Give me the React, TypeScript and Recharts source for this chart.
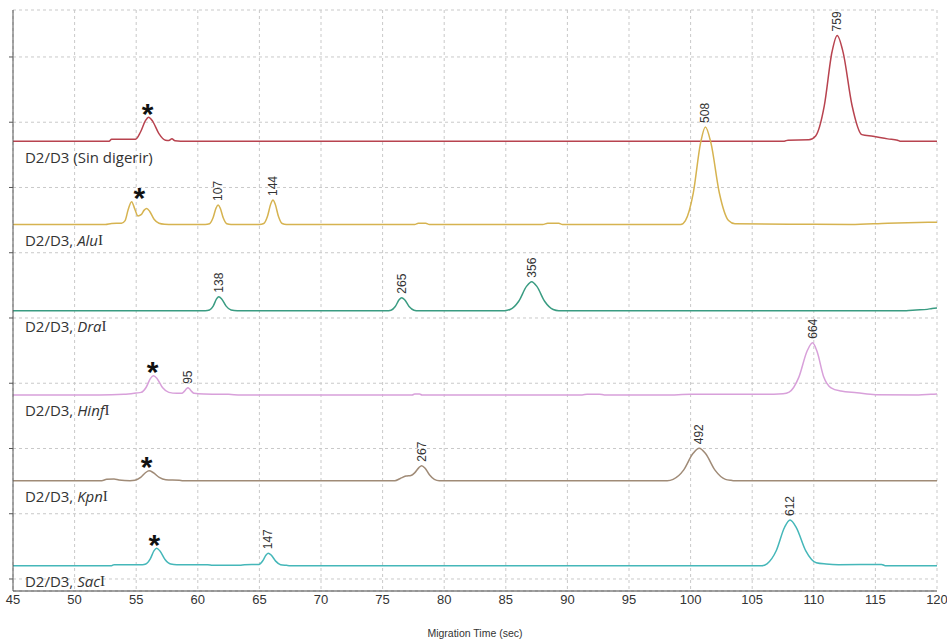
import React from 'react';
import { ComposedChart, Line, Scatter, XAxis, YAxis, CartesianGrid } from 'recharts';

type Pt = [number, number];

// migration time axis and lane grid
const timeTicks = [45, 50, 55, 60, 65, 70, 75, 80, 85, 90, 95, 100, 105, 110, 115, 120];
const gridRows = [0, 10, 20, 30, 40, 50, 60, 70, 80];

// one lane per digest, top to bottom
const laneEnzymes = ['', 'Alu', 'Dra', 'Hinf', 'Kpn', 'Sac'];
const laneOffsets = [67.1, 54.33, 41.12, 28.2, 15.07, 2.04];

// fluorescence traces: [migration time, signal above lane baseline]
const undigested: Pt[] = [
  [45, 0], [52.8, 0], [53.0, 0.3], [54.95, 0.3], [55.35, 1.4], [55.75, 3.14], [56.0, 3.68],
  [56.33, 3.07], [56.83, 1.2], [57.38, 0.15], [57.65, 0.1], [57.9, 0.35], [58.15, 0.05], [58.6, 0],
  [107.6, 0], [107.9, 0.15], [109.6, 0.2], [110.15, 0.8], [110.85, 5.4], [111.48, 13.7], [111.9, 16.2],
  [112.38, 13.6], [113.1, 5.5], [113.9, 1.0], [114.8, 0.75], [116.0, 0.35], [116.8, 0.15], [117.0, 0], [120, 0],
];
const aluI: Pt[] = [
  [45, 0], [52.5, 0], [53.0, 0.15], [53.8, 0.2], [54.1, 0.6], [54.35, 2.3], [54.63, 3.5], [54.88, 2.4],
  [55.15, 1.3], [55.4, 1.5], [55.65, 2.2], [55.85, 2.45], [56.1, 2.0], [56.45, 0.8], [56.85, 0.2], [57.3, 0.05], [58, 0],
  [60.6, 0], [60.95, 0.12], [61.23, 0.98], [61.48, 2.5], [61.65, 3.0], [61.82, 2.5], [62.07, 0.98], [62.35, 0.12], [62.7, 0],
  [65.0, 0], [65.35, 0.15], [65.65, 1.22], [65.92, 3.13], [66.1, 3.75], [66.28, 3.13], [66.55, 1.22], [66.85, 0.15], [67.2, 0],
  [77.6, 0], [77.9, 0.18], [78.5, 0.18], [78.8, 0], [88.0, 0], [88.4, 0.18], [89.3, 0.18], [89.6, 0],
  [99.2, 0], [99.58, 0.6], [100.22, 4.86], [100.81, 12.5], [101.2, 14.95], [101.65, 12.5], [102.33, 4.86],
  [103.08, 0.6], [103.6, 0.1], [108, 0.05], [113, 0], [116, 0.2], [120, 0.35],
];
const draI: Pt[] = [
  [45, 0], [60.6, 0], [60.95, 0.09], [61.25, 0.7], [61.52, 1.8], [61.7, 2.15], [61.94, 1.8], [62.3, 0.7], [62.7, 0.1], [63.2, 0],
  [75.3, 0], [75.68, 0.08], [76.03, 0.65], [76.34, 1.67], [76.55, 2.0], [76.79, 1.67], [77.15, 0.65], [77.55, 0.08], [77.9, 0],
  [84.9, 0], [85.35, 0.18], [86.05, 1.45], [86.68, 3.72], [87.1, 4.45], [87.52, 3.72], [88.15, 1.45], [88.85, 0.18], [89.3, 0],
  [117.5, 0], [118.3, 0.1], [119.2, 0.2], [119.6, 0.35], [120, 0.4],
];
const hinfI: Pt[] = [
  [45, 0], [52, 0], [54, 0.1], [55.0, 0.3], [55.4, 0.4], [55.8, 1.15], [56.16, 2.55], [56.4, 2.95], [56.7, 2.5],
  [57.15, 1.1], [57.65, 0.4], [58.3, 0.25], [58.7, 0.25], [58.9, 0.55], [59.08, 0.95], [59.2, 1.1], [59.32, 0.95],
  [59.5, 0.55], [59.7, 0.25], [60.5, 0.15], [62.5, 0.1], [63.5, 0],
  [77.4, 0], [77.6, 0.15], [78.0, 0.15], [78.2, 0], [91.2, 0], [91.6, 0.12], [92.6, 0.12], [93.0, 0],
  [98, 0], [100, 0.1], [106, 0.1], [107.5, 0.2], [108.0, 0.45], [108.78, 2.7], [109.45, 6.7], [109.9, 8.0],
  [110.26, 6.7], [110.8, 2.8], [111.4, 1.1], [112.2, 0.6], [113.5, 0.35], [115.0, 0.05], [118.5, 0], [119.5, 0.1], [120, 0.15],
];
const kpnI: Pt[] = [
  [45, 0], [52.2, 0], [52.6, 0.2], [53.2, 0.25], [53.6, 0.1], [54.5, 0], [54.9, 0.06], [55.36, 0.49], [55.77, 1.25],
  [56.04, 1.5], [56.37, 1.25], [56.87, 0.49], [57.4, 0.15], [58.5, 0.08], [58.8, 0],
  [76.0, 0], [76.4, 0.3], [76.9, 0.7], [77.3, 0.8], [77.6, 1.2], [77.95, 2.0], [78.17, 2.3], [78.45, 1.9], [78.8, 0.9], [79.2, 0.2], [79.6, 0],
  [98.1, 0], [98.58, 0.2], [99.43, 1.62], [100.19, 4.15], [100.7, 4.97], [101.21, 4.15], [101.98, 1.62], [102.83, 0.2],
  [103.3, 0.05], [103.6, 0], [120, 0],
];
const sacI: Pt[] = [
  [45, 0], [53.0, 0], [53.2, 0.15], [55.5, 0.15], [55.78, 0.25], [56.13, 1.0], [56.45, 2.3], [56.66, 2.67], [56.93, 2.25],
  [57.34, 0.95], [57.8, 0.25], [58.3, 0.15], [60.8, 0.15], [61.2, 0.05], [63.4, 0.05], [63.8, 0.15],
  [64.97, 0.2], [65.27, 0.75], [65.54, 1.63], [65.72, 1.9], [65.96, 1.62], [66.32, 0.7], [66.72, 0.15], [67.2, 0.05], [67.5, 0],
  [105.8, 0], [106.2, 0.28], [106.95, 2.28], [107.62, 5.85], [108.07, 7.0], [108.58, 5.85], [109.35, 2.28], [110.2, 0.45],
  [111.0, 0.25], [112.0, 0.15], [115.5, 0.2], [115.8, 0], [120, 0],
];
const traces = [undigested, aluI, draI, hinfI, kpnI, sacI];

// fragment sizes (bp) called at each peak
const fragmentSizes = [
  { lane: 0, t: 111.9, size: '759' },
  { lane: 1, t: 61.65, size: '107' },
  { lane: 1, t: 66.1, size: '144' },
  { lane: 1, t: 101.2, size: '508' },
  { lane: 2, t: 61.7, size: '138' },
  { lane: 2, t: 76.55, size: '265' },
  { lane: 2, t: 87.1, size: '356' },
  { lane: 3, t: 59.2, size: '95' },
  { lane: 3, t: 109.9, size: '664' },
  { lane: 4, t: 78.17, size: '267' },
  { lane: 4, t: 100.7, size: '492' },
  { lane: 5, t: 65.72, size: '147' },
  { lane: 5, t: 108.07, size: '612' },
];

// marker peaks flagged with an asterisk
const markerPeaks = [
  { lane: 0, t: 55.93 },
  { lane: 1, t: 55.25 },
  { lane: 3, t: 56.34 },
  { lane: 4, t: 55.85 },
  { lane: 5, t: 56.47 },
];

const laneColors = ['#b8434f', '#d6b350', '#3a9c82', '#d8a0da', '#a08b77', '#45b7b9'];

const apexNear = (lane: number, t: number, win: number) => {
  let best = 0;
  for (const [pt, pv] of traces[lane]) if (Math.abs(pt - t) <= win && pv > best) best = pv;
  return laneOffsets[lane] + best;
};

const laneSeries = traces.map((tr, i) => tr.map(([t, v]) => ({ t, v: laneOffsets[i] + v })));
const sizeTags = fragmentSizes.map((f) => ({ t: f.t, v: apexNear(f.lane, f.t, 0.05), size: f.size }));
const stars = markerPeaks.map((m) => ({ t: m.t, v: apexNear(m.lane, m.t, 0.8) }));
const laneTitles = laneEnzymes.map((e, i) => ({ t: 45.97, v: laneOffsets[i] - 2.36, enzyme: e }));

const SANS = "'Liberation Sans', Arial, sans-serif";

const SizeTag = (p: any) => {
  const { cx, cy, payload } = p;
  const y = cy - 4;
  return (
    <text x={cx} y={y} transform={`rotate(-90 ${cx} ${y})`} fontSize={12} fontFamily={SANS}
      fill="#333" dominantBaseline="central">
      {payload.size}
    </text>
  );
};

const Star = (p: any) => {
  const { cx, cy } = p;
  const center = cy - 11;
  return (
    <text x={cx} y={center + 17.4} textAnchor="middle" fontSize={30} fontWeight="bold" fontFamily={SANS} fill="#111">
      *
    </text>
  );
};

const LaneTitle = (p: any) => {
  const { cx, cy, payload } = p;
  return (
    <text x={cx} y={cy} fontSize={15} fontFamily="'Open Sans', sans-serif" fill="#333" dominantBaseline="central">
      {payload.enzyme === '' ? (
        'D2/D3 (Sin digerir)'
      ) : (
        <>
          <tspan>D2/D3, </tspan>
          <tspan fontStyle="italic">{payload.enzyme}</tspan>
          <tspan fontFamily="'Liberation Serif', serif">I</tspan>
        </>
      )}
    </text>
  );
};

export default function App() {
  return (
    <div style={{ width: 947, height: 640, background: '#fff' }}>
      <style>{'body{margin:0}'}</style>
      <ComposedChart width={947} height={640} margin={{ top: 10, right: 10, left: 9, bottom: 1 }}>
        <CartesianGrid stroke="#c9c9c9" strokeDasharray="3 3" />
        <XAxis
          type="number"
          dataKey="t"
          domain={[45, 120]}
          ticks={timeTicks}
          allowDataOverflow
          height={48}
          tickLine={false}
          tickSize={2}
          stroke="#444"
          tick={{ fontSize: 13, fill: '#333', fontFamily: SANS }}
          label={{ value: 'Migration Time (sec)', position: 'insideBottom', offset: 2, fontSize: 10.5, fill: '#333', fontFamily: SANS }}
        />
        <YAxis
          type="number"
          dataKey="v"
          domain={[-1.84, 87.2]}
          ticks={gridRows}
          allowDataOverflow
          width={4}
          tickSize={4}
          stroke="#555"
          tickFormatter={() => ''}
        />
        {laneSeries.map((d, i) => (
          <Line
            key={i}
            data={d}
            dataKey="v"
            type="monotone"
            stroke={laneColors[i]}
            strokeWidth={1.5}
            dot={false}
            activeDot={false}
            isAnimationActive={false}
          />
        ))}
        <Scatter data={sizeTags} dataKey="v" shape={SizeTag} isAnimationActive={false} />
        <Scatter data={stars} dataKey="v" shape={Star} isAnimationActive={false} />
        <Scatter data={laneTitles} dataKey="v" shape={LaneTitle} isAnimationActive={false} />
      </ComposedChart>
    </div>
  );
}
